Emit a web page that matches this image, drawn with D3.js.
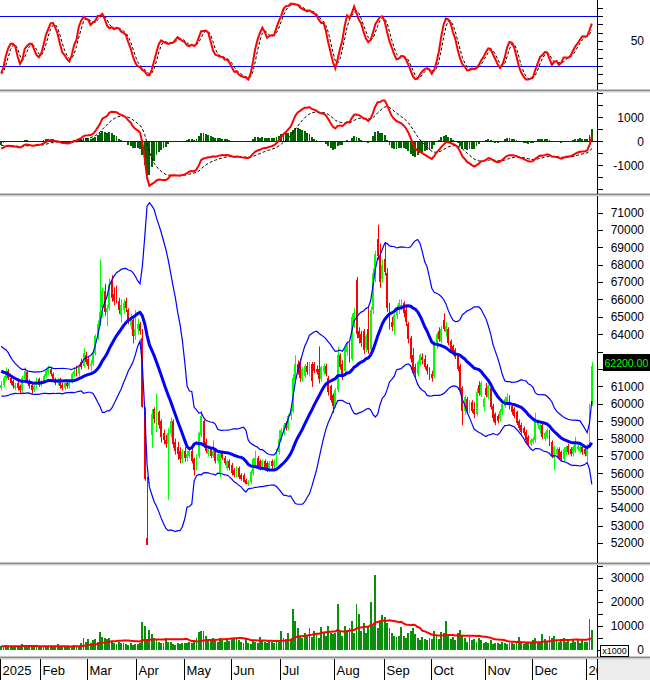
<!DOCTYPE html>
<html><head><meta charset="utf-8">
<script src="https://cdn.jsdelivr.net/npm/d3@7"></script>
<style>body{margin:0;background:#fff}svg{display:block}text{font-family:"Liberation Sans",Arial,sans-serif}</style>
</head><body><svg id="c" width="650" height="680"></svg>
<script>
// ---- DATA: daily candles [open, high, low, close] ----
// late 2024 bars (only used so the indicators are warmed up at the left edge)
const dec24 = [[60800,61200,60700,61000],[61000,61400,60900,61200],[61200,61600,61100,61500],[61500,61600,61100,61300],[61300,61800,61200,61600],[61600,62000,61500,61800],[61800,62200,61700,62000],[62000,62100,61600,61800],[61800,62000,61500,61700],[61700,62200,61600,62000],[62000,62500,61900,62300],[62300,62400,61900,62100],[62100,62600,62000,62400],[62400,62800,62300,62600],[62600,62700,62100,62300],[62300,62400,61800,62000],[62000,62100,61600,61800],[61800,62300,61700,62100],[62100,62700,62000,62500],[62500,63000,62400,62800],[62800,63300,62700,63000],[63000,63200,62600,62800],[62800,62900,62400,62600],[62600,63100,62500,62900],[62900,63400,62800,63100],[63100,63200,62600,62800],[62800,62900,62300,62500],[62500,62600,62100,62300],[62300,62500,62000,62200],[62200,62300,61800,62000],[62000,62100,61600,61800],[61800,62100,61700,61900],[61900,62000,61400,61600],[61600,61700,61200,61400],[61400,61700,61300,61500],[61500,61600,61000,61200],[61200,61400,60900,61100],[61100,61200,60700,60900],[60900,61200,60800,61000],[61000,61100,60700,60900]];
const jan25 = [[60900,61300,60800,61100],[61100,61600,61000,61500],[61500,62100,61400,61900],[61900,62000,61400,61500],[61500,61600,61100,61200],[61300,61400,60900,61000],[60900,61200,60800,61100],[61200,61300,60800,60900],[61000,61100,60600,60800],[60800,61600,60700,61500],[61400,62100,61300,61900],[61800,61900,61200,61300],[61300,61400,60900,61000],[61100,61200,60600,60800],[60800,61100,60700,61000],[61000,61500,60900,61400],[61400,61500,61000,61100]];
const feb25 = [[61100,61400,61000,61300],[61300,61700,61200,61600],[61600,62000,61500,61900],[61800,62200,61700,62000],[62000,62100,61600,61700],[61700,61800,61300,61400],[61400,61500,61100,61200],[61200,61500,61100,61400],[61400,61500,60900,61000],[61100,61200,60800,60900],[60900,61300,60800,61200],[61200,61300,60900,61000],[61000,61400,60900,61300],[61300,61800,61200,61700],[61700,62100,61600,61900],[62000,62200,61600,61700],[61700,62300,61600,62200],[62400,62600,62000,62100],[62200,63200,62100,62900],[62800,63000,62300,62400]];
const mar25 = [[62600,62700,62000,62200],[62200,62500,61900,62300],[62300,63000,62200,62900],[62900,64000,62800,63900],[63900,64800,63700,64600],[64600,68300,64500,65300],[65500,66700,65000,66500],[66500,66900,65100,65300],[65300,65700,64500,65500],[65500,67200,65400,66900],[67100,67400,65900,66100],[66300,66700,65700,65900],[66400,66800,65800,66000],[65900,66100,65200,65400],[65100,66000,64700,65700],[65400,66000,65200,65800],[65900,66100,65300,65500],[65400,65500,64600,64700],[64500,65200,64300,65000],[64800,64900,63500,63900],[63900,65400,63700,64300]];
const apr25 = [[64300,64900,64000,64600],[64600,64700,64000,64200],[63800,64300,59800,59800],[59600,59800,55600,55700],[52300,55800,51900,51900],[55500,55500,55500,55500],[58200,59700,57500,59400],[59700,59800,58900,59100],[59000,60600,58400,59500],[59500,59600,58600,58800],[59000,59100,57800,58100],[58300,58500,57700,57900],[57900,58200,57500,57700],[57700,58600,54500,58300],[58300,59200,58100,59000],[59000,59100,57500,57700],[57800,58000,57100,57300],[57500,57800,56800,57100],[57300,57500,56600,56800],[56800,57400,56600,57200]];
const may25 = [[57300,57500,56700,56900],[56900,57300,56700,57100],[57000,57500,56900,57300],[57300,57400,56600,56700],[56800,56900,55900,56200],[56300,57100,56200,57000],[57000,58400,56900,58300],[58200,59600,58100,59300],[59000,59100,57500,57700],[57800,58000,57200,57300],[57100,57600,57000,57400],[57400,57500,56900,57000],[57000,57900,56900,57300],[57300,57400,56600,56700],[56700,57200,56600,57100],[56000,57200,55800,57100],[57200,57300,56800,56900],[56900,57000,56500,56600],[56300,56800,56200,56700],[56700,56800,56200,56300]];
const jun25 = [[56500,56600,55900,56000],[56200,56300,55800,55900],[55900,56400,55800,56300],[56300,56400,55700,55800],[55900,56000,55600,55700],[55900,56000,55500,55500],[55600,55700,55400,55400],[55400,55600,55300,55500],[55500,56200,55400,56100],[56000,56900,55900,56800],[56500,57300,56400,56900],[56900,57000,56300,56400],[56700,56800,56200,56300],[56300,56800,56200,56700],[56700,56800,56200,56300],[56600,56700,56100,56200],[56200,56700,56100,56600],[56700,56800,56300,56400],[56400,56800,56300,56700],[56600,57400,56500,57300],[57200,58500,57100,58000]];
const jul25 = [[58000,58600,57900,58500],[58300,58900,58200,58800],[58900,59000,58500,58600],[58600,59400,58500,59300],[59300,59700,59100,59600],[59600,61700,59500,61500],[61300,62800,61200,62300],[62300,62500,61700,61800],[62400,62600,61300,61500],[61400,62100,61300,62000],[61600,62300,61500,62200],[62200,62400,61700,61800],[61700,62400,61600,62300],[62300,62400,61000,61300],[62300,62400,61800,61900],[62000,62200,61700,61800],[62000,63300,61200,61400],[61400,62200,61300,62100],[61800,62300,61700,62200],[62200,62300,61600,61700],[61500,61600,60500,60700],[61000,61100,60100,60200],[60500,60600,59500,59900]];
const aug25 = [[59900,60900,59800,60800],[60800,63300,60700,62800],[62800,62900,62000,62100],[62300,62500,61400,61600],[61900,63300,61800,63200],[63000,63600,62800,63400],[63300,63500,62400,62500],[62600,65200,62500,65000],[64600,65500,64400,65200],[67100,67300,63800,64000],[64200,64400,63500,63800],[64000,64200,63300,63500],[64200,64300,62900,63100],[63200,64000,63000,63900],[64300,65500,62900,63100],[63100,65600,63000,65400],[65400,67800,65200,67500],[67500,68800,67000,68600],[69500,70300,68300,68500],[68500,69200,66700,67000],[67200,68300,67000,68000]];
const sep25 = [[68300,69300,67400,67600],[67500,67800,65300,65500],[65600,65800,64300,64500],[64700,65000,64200,64400],[64500,65200,64000,65100],[65100,65700,64900,65400],[65400,66000,65200,65800],[65600,66000,65400,65700],[65800,65900,65000,65200],[65400,65700,64500,64700],[64600,64700,63500,63700],[63800,63900,62400,62600],[62800,63200,61800,61900],[62100,62300,61500,61700],[61700,62500,61600,62400],[62300,62900,62200,62800],[62700,62900,62300,62500],[62600,62800,62000,62100],[62200,62300,61700,61900],[62000,62100,61400,61600]];
const oct25 = [[61700,61900,61300,61500],[61600,63600,61500,63400],[63300,64100,63200,64000],[64200,64400,63600,63700],[63600,64500,63500,64300],[64800,65200,64200,64300],[64100,64700,63900,64500],[64300,64400,63400,63500],[63600,63700,63000,63100],[63300,63400,62800,62900],[63100,63200,62600,62700],[62800,62900,61900,62000],[62200,62300,60600,60800],[60900,61000,58800,59600],[59600,60500,59400,60400],[60300,60400,59500,59700],[59600,60200,59500,60100],[60100,60200,59500,59600],[59700,60100,59200,59400],[59400,60900,59300,60700],[61100,61300,60500,60600],[60500,61300,60400,61200],[59800,60400,59600,60300]];
const nov25 = [[60900,61200,60400,60500],[60400,61100,60300,61000],[60900,61000,59700,59800],[59900,60000,59000,59200],[59400,59500,58800,58900],[59300,59400,58900,59000],[59100,59700,59000,59600],[59500,60100,59400,60000],[59900,60400,59800,60300],[60100,60600,60000,60400],[60400,60500,59700,59800],[59900,60000,59400,59500],[59700,59800,59200,59300],[59500,59600,58800,58900],[59000,59100,58500,58600],[58800,58900,58300,58400],[58600,58700,58200,58300],[58400,58500,57800,57900],[58100,58200,57600,57700],[57700,58000,57600,57900]];
const dec25 = [[57800,58100,57700,58000],[57900,59500,57800,59000],[58800,59100,58600,58900],[58500,58900,58300,58800],[58800,58900,58000,58100],[58000,58400,57900,58300],[58100,58600,58000,58500],[58400,58500,57600,57700],[57800,57900,56900,57000],[56900,57600,56200,57500],[57100,57500,57000,57400],[57400,57500,56800,56900],[57200,57300,56700,56800],[56800,57500,56700,57400],[57200,57600,57100,57500],[57600,57700,57100,57200],[57400,57500,57000,57100],[57100,57600,57000,57500],[57300,58100,57200,57700],[57400,57700,57300,57600],[57300,57600,57200,57500],[57500,57600,57100,57200],[57400,57500,57000,57100]];
const jan26 = [[57000,57700,56700,57600],[57800,60000,57700,59800],[60000,62400,59900,62200]];

// volume (x1000 shares)
const volWarm = [1500,1700,1400,1600,1800,1500,1300,1600,1700,1500,1400,1600,1900,1500,1300,1400,1700,1600,1500,1800,1600,1400,1500,1700,1600,1300,1500,1800,1600,1400,1500,1700,1500,1600,1400,1500,1800,1600,1500,1700];
const volume = [
 1800,1500,2000,1200,1400,1600,1300,1500,1700,2500,2200,1600,1400,1300,1200,1500,1400,
 1300,1500,1400,1800,1500,1200,1300,2500,1500,1400,1200,1300,1500,1800,2200,1600,1500,2800,5000,3500,
 4500,3000,4000,4500,3500,7500,5500,5000,4500,5000,3500,3000,2500,3500,2800,3000,2500,2000,3000,2200,2500,
 2500,3000,11500,10000,4500,8500,6500,5000,4500,3500,3000,2800,5000,3200,3500,2500,2200,3000,2500,2800,
 3000,2800,3500,3000,4000,5000,7500,8000,8000,6000,4500,4000,5000,4500,3500,5000,4000,3500,4500,3800,
 5000,4500,5000,4000,3500,3000,4500,2800,2500,4000,3500,3000,5500,4000,3500,3000,4000,3500,3000,4000,3500,
 8000,5000,4500,7000,4500,17000,12000,9000,6000,5000,7000,6000,9000,5500,8000,6500,5000,9500,7000,6000,10000,7000,6500,
 7000,19000,8000,6000,10000,8500,9000,12000,7000,19000,15000,8000,11000,7000,9500,20000,10000,31000,9000,12000,14500,
 13500,11000,9000,7000,6000,5500,6000,9500,6000,5000,7000,8000,9000,6500,5000,4000,5500,4500,4000,5000,
 4500,8000,6000,4500,7500,7000,12000,6000,4500,5500,4000,7000,8500,6000,5000,3500,5500,4000,4500,3500,5000,4000,3000,
 3500,3000,4000,2500,3000,2800,2500,3500,3000,2500,3000,2800,2500,3500,5500,3000,2500,3000,2800,3500,
 4000,5000,3500,3000,6500,4500,3500,6000,5000,6000,4000,3500,4500,5000,3500,4500,3000,4500,3500,4000,3000,4500,3500,
 3500,13000,8500];

const monthLabels = ["2025","Feb","Mar","Apr","May","Jun","Jul","Aug","Sep","Oct","Nov","Dec","2026"];
const monthBars = [jan25,feb25,mar25,apr25,may25,jun25,jul25,aug25,sep25,oct25,nov25,dec25,jan26];
const priceLabels = [52000,53000,54000,55000,56000,57000,58000,59000,60000,61000,62000,63000,64000,65000,66000,67000,68000,69000,70000,71000];
const oscLabels = [50];
const macdLabels = [-1000,0,1000];
const volLabels = [0,10000,20000,30000];
const lastPriceText = "62200.00";

// ---- indicators (standard definitions) ----
const all = dec24.concat(...monthBars);
const W = dec24.length;
const N = all.length - W;
const C = all.map(d=>d[3]), H = all.map(d=>d[1]), L = all.map(d=>d[2]);
const V = volWarm.concat(volume);
function ema(a,n){const k=2/(n+1);const o=[a[0]];for(let i=1;i<a.length;i++)o.push(k*a[i]+(1-k)*o[i-1]);return o;}
function mean(a,n,i){let s=0;for(let j=i-n+1;j<=i;j++)s+=a[j];return s/n;}
const e12=ema(C,12), e26=ema(C,26);
const macdA=C.map((_,i)=>e12[i]-e26[i]);
const sigA=ema(macdA,9);
// stochastic (14, 5, 3)
const fastK=C.map((c,i)=>{if(i<13)return 50;const hh=d3.max(H.slice(i-13,i+1)),ll=d3.min(L.slice(i-13,i+1));return hh===ll?50:100*(c-ll)/(hh-ll);});
const slowK=fastK.map((_,i)=>i<4?fastK[i]:mean(fastK,5,i));
const slowD=slowK.map((_,i)=>i<2?slowK[i]:mean(slowK,3,i));

const rows=d3.range(N).map(i=>{const j=i+W,d=all[j];
  const m=mean(C,20,j);let v=0;for(let k=j-19;k<=j;k++)v+=(C[k]-m)**2;const sd=Math.sqrt(v/20);
  return {i,o:d[0],h:d[1],l:d[2],c:d[3],ma:m,up:m+2*sd,lo:m-2*sd,
    macd:macdA[j],sig:sigA[j],hist:macdA[j]-sigA[j],k:slowK[j],d:slowD[j],vol:V[j],vma:mean(V,20,j)};});

// ---- layout ----
const svg=d3.select("#c");
const R=597;
const x=d3.scaleBand().domain(d3.range(N)).range([0,593]).paddingInner(0.2).paddingOuter(0.1);
const xc=i=>x(i)+x.bandwidth()/2;
const P={osc:[0,89],macd:[92,193],price:[196,562],vol:[565,656]};
const yOsc=d3.scaleLinear().domain([0,100]).range([82.7,-0.6]);
const yMacd=d3.scaleLinear().domain([-2000,2000]).range([189.3,93.3]);
const yPrice=d3.scaleLinear().domain([51000,71000]).range([212.5+20000*0.01739,212.5]);
const yVol=d3.scaleLinear().domain([0,30000]).range([650,577.7]);

const defs=svg.append("defs");
Object.entries(P).forEach(([k,[t,b]])=>{defs.append("clipPath").attr("id","cl-"+k).append("rect").attr("x",0).attr("y",t).attr("width",R).attr("height",b-t);});
defs.append("clipPath").attr("id","cl-x").append("rect").attr("x",0).attr("y",658).attr("width",R).attr("height",22);

svg.append("rect").attr("x",598).attr("y",659).attr("width",52).attr("height",21).attr("fill","#ececec");

// separators
[89,193,562,656].forEach(y=>{
  svg.append("rect").attr("x",0).attr("y",y+0.5).attr("width",650).attr("height",2).attr("fill","#8c8c8c");
  svg.append("rect").attr("x",0).attr("y",y+2.5).attr("width",650).attr("height",1).attr("fill","#d6d6d6");
});

// last price tag position (the label under it is covered, as in the original)
const ty=yPrice(C[C.length-1])-3;

// right axes
function rAxis(scale,ticks,labels,tickLen,minorTicks,hide){
  const g=svg.append("g").attr("transform",`translate(${R+0.5},0)`);
  if(minorTicks){g.call(d3.axisRight(scale).tickValues(minorTicks).tickSize(3).tickFormat(""));}
  g.call(d3.axisRight(scale).tickValues(ticks).tickSize(tickLen).tickFormat(v=>labels.includes(v)&&!(hide&&hide(v))?String(v):""));
  g.select(".domain").remove();
  g.selectAll("line").attr("stroke","#000").attr("shape-rendering","crispEdges");
  g.selectAll("text").attr("text-anchor","end").attr("x",46.5).attr("fill","#000").attr("font-size","12px").attr("font-family","Liberation Sans, Arial, sans-serif");
  return g;
}
Object.values(P).forEach(([t,b])=>svg.append("line").attr("x1",R+0.5).attr("x2",R+0.5).attr("y1",t).attr("y2",b+1).attr("stroke","#000"));
svg.append("line").attr("x1",R+0.5).attr("x2",R+0.5).attr("y1",659).attr("y2",680).attr("stroke","#000");
rAxis(yOsc,d3.range(0,100,10),oscLabels,5);
rAxis(yMacd,d3.range(-2000,2001,500),macdLabels,5);
rAxis(yPrice,priceLabels,priceLabels,5,d3.range(51500,71501,1000),v=>Math.abs(yPrice(v)-ty)<14);
rAxis(yVol,d3.range(0,35001,5000),volLabels,5);

// ---- oscillator panel ----
const gO=svg.append("g").attr("clip-path","url(#cl-osc)");
[80,20].forEach(v=>gO.append("line").attr("x1",0).attr("x2",R).attr("y1",Math.round(yOsc(v))+0.5).attr("y2",Math.round(yOsc(v))+0.5).attr("stroke","#0000ff"));
gO.append("path").datum(rows).attr("fill","none").attr("stroke","#000").attr("stroke-width",1).attr("stroke-dasharray","3,2")
  .attr("d",d3.line().x(d=>xc(d.i)).y(d=>yOsc(d.d)));
gO.append("path").datum(rows).attr("fill","none").attr("stroke","#ff0000").attr("stroke-width",2)
  .attr("d",d3.line().x(d=>xc(d.i)).y(d=>yOsc(d.k)));

// ---- MACD panel ----
const gM=svg.append("g").attr("clip-path","url(#cl-macd)");
gM.selectAll("rect.h").data(rows).join("rect").attr("x",d=>x(d.i)).attr("width",x.bandwidth())
  .attr("y",d=>Math.min(yMacd(0),yMacd(d.hist))).attr("height",d=>Math.abs(yMacd(d.hist)-yMacd(0)))
  .attr("fill","#006400").attr("shape-rendering","crispEdges");
gM.append("line").attr("x1",0).attr("x2",R).attr("y1",Math.round(yMacd(0))+0.5).attr("y2",Math.round(yMacd(0))+0.5).attr("stroke","#0000ff");
gM.append("path").datum(rows).attr("fill","none").attr("stroke","#000").attr("stroke-width",1).attr("stroke-dasharray","3,2")
  .attr("d",d3.line().x(d=>xc(d.i)).y(d=>yMacd(d.sig)));
gM.append("path").datum(rows).attr("fill","none").attr("stroke","#ff0000").attr("stroke-width",2)
  .attr("d",d3.line().x(d=>xc(d.i)).y(d=>yMacd(d.macd)));

// ---- price panel ----
const gP=svg.append("g").attr("clip-path","url(#cl-price)");
const col=d=>d.c>=d.o?"#00ff00":"#ff0000";
gP.selectAll("line.w").data(rows).join("line").attr("x1",d=>Math.round(xc(d.i))+0.5).attr("x2",d=>Math.round(xc(d.i))+0.5)
  .attr("y1",d=>yPrice(d.h)).attr("y2",d=>yPrice(d.l)+0.5).attr("stroke",col).attr("stroke-width",1);
gP.selectAll("rect.b").data(rows).join("rect").attr("x",d=>x(d.i)).attr("width",x.bandwidth())
  .attr("y",d=>yPrice(Math.max(d.o,d.c))).attr("height",d=>Math.max(1,Math.abs(yPrice(d.o)-yPrice(d.c))))
  .attr("fill",col).attr("shape-rendering","crispEdges");
const lineP=k=>d3.line().x(d=>xc(d.i)).y(d=>yPrice(d[k]));
gP.append("path").datum(rows).attr("fill","none").attr("stroke","#0000ff").attr("stroke-width",1.2).attr("d",lineP("up"));
gP.append("path").datum(rows).attr("fill","none").attr("stroke","#0000ff").attr("stroke-width",1.2).attr("d",lineP("lo"));
gP.append("path").datum(rows).attr("fill","none").attr("stroke","#0000ff").attr("stroke-width",3).attr("d",lineP("ma"));

// last price tag
svg.append("rect").attr("x",603).attr("y",ty-8.5).attr("width",47).attr("height",17).attr("fill","#000");
svg.append("text").attr("x",604.5).attr("y",ty+4).attr("fill","#00ff00").attr("font-size","10.5px").text(lastPriceText);

// ---- volume panel ----
const gV=svg.append("g").attr("clip-path","url(#cl-vol)");
gV.selectAll("rect.v").data(rows).join("rect").attr("x",d=>x(d.i)).attr("width",x.bandwidth())
  .attr("y",d=>yVol(d.vol)).attr("height",d=>yVol(0)-yVol(d.vol)).attr("fill","#0a8f0a").attr("shape-rendering","crispEdges");
gV.append("path").datum(rows).attr("fill","none").attr("stroke","#ff0000").attr("stroke-width",2)
  .attr("d",d3.line().x(d=>xc(d.i)).y(d=>yVol(d.vma)));
svg.append("rect").attr("x",600.5).attr("y",645.5).attr("width",28).attr("height",11).attr("fill","#fff").attr("stroke","#000");
svg.append("text").attr("x",614.5).attr("y",654).attr("text-anchor","middle").attr("font-size","9px").attr("fill","#000").text("x1000");

// ---- time axis ----
const gX=svg.append("g").attr("clip-path","url(#cl-x)");
let start=0;
const gap=(x.step()-x.bandwidth())/2;
monthBars.forEach((m,k)=>{
  const tx=Math.round(x(start)-gap)+0.5;
  gX.append("line").attr("x1",tx).attr("x2",tx).attr("y1",659).attr("y2",680).attr("stroke","#000");
  gX.append("text").attr("x",tx+2).attr("y",675).attr("font-size","13px").attr("fill","#000").text(monthLabels[k]);
  start+=m.length;
});
</script></body></html>
